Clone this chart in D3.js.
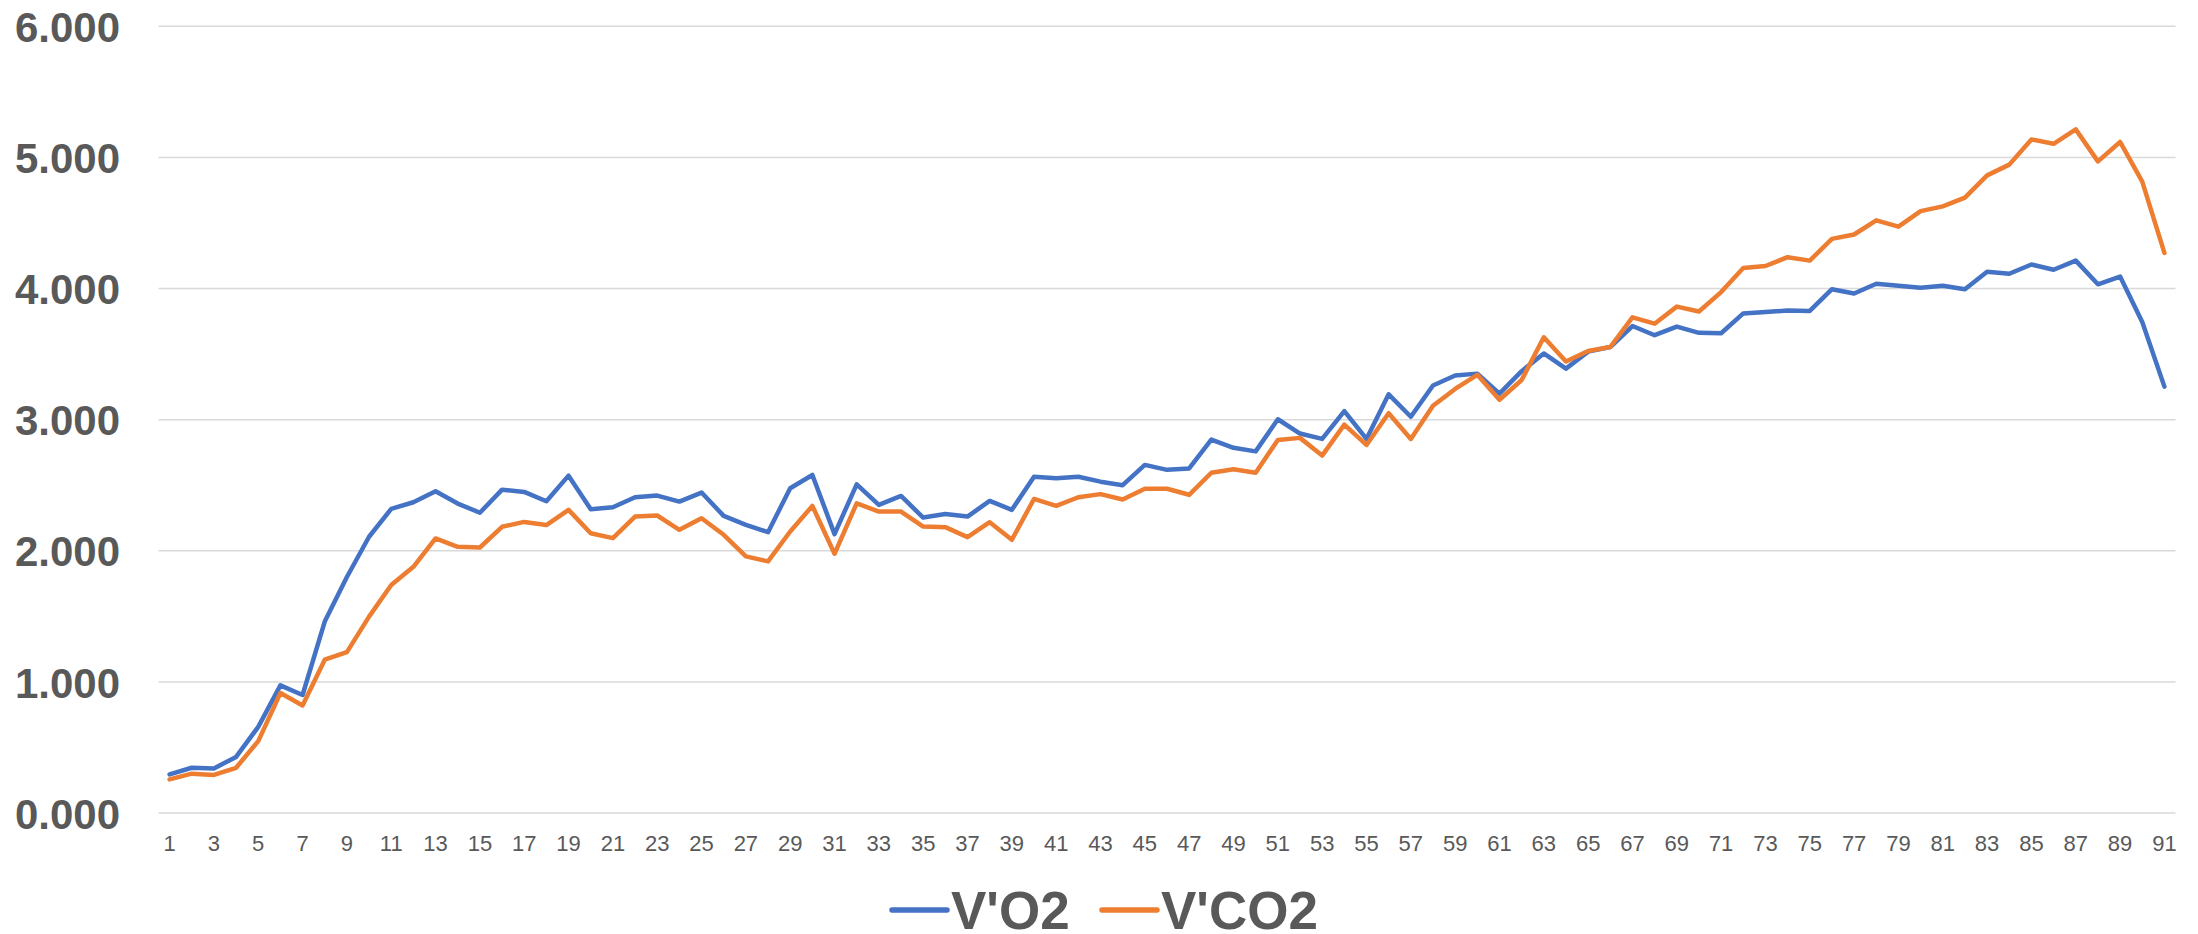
<!DOCTYPE html>
<html>
<head>
<meta charset="utf-8">
<script src="https://cdn.jsdelivr.net/npm/d3@7"></script>
<style>
  html, body { margin: 0; padding: 0; background: #ffffff; }
  svg { display: block; font-family: "Liberation Sans", Arial, sans-serif; }
</style>
</head>
<body>
<svg id="chart" width="2198" height="934"></svg>
<script>
// ---- data ----
const categories = d3.range(1, 92);
const seriesNames = ["V'O2", "V'CO2"];
const seriesColors = ["#4472C4", "#ED7D31"];
const yTickValues = [0, 1, 2, 3, 4, 5, 6];
const vo2 = [
  0.294, 0.345, 0.340, 0.428, 0.657, 0.973, 0.900, 1.460, 1.800, 2.107,
  2.320, 2.370, 2.454, 2.360, 2.290, 2.466, 2.449, 2.378, 2.573, 2.317,
  2.332, 2.408, 2.421, 2.375, 2.444, 2.266, 2.198, 2.142, 2.477, 2.578,
  2.127, 2.507, 2.350, 2.418, 2.253, 2.281, 2.261, 2.380, 2.312, 2.565,
  2.553, 2.565, 2.527, 2.500, 2.655, 2.617, 2.628, 2.848, 2.785, 2.758,
  3.003, 2.894, 2.853, 3.065, 2.853, 3.193, 3.022, 3.261, 3.337, 3.351,
  3.198, 3.370, 3.505, 3.389, 3.519, 3.554, 3.714, 3.644, 3.710, 3.662,
  3.659, 3.810, 3.821, 3.832, 3.829, 3.995, 3.962, 4.036, 4.021, 4.006,
  4.021, 3.995, 4.128, 4.113, 4.183, 4.143, 4.213, 4.032, 4.091, 3.744,
  3.252
];
const vco2 = [
  0.256, 0.300, 0.290, 0.345, 0.548, 0.915, 0.820, 1.169, 1.227, 1.498,
  1.739, 1.878, 2.094, 2.030, 2.025, 2.183, 2.220, 2.196, 2.312, 2.134,
  2.096, 2.261, 2.269, 2.160, 2.248, 2.122, 1.957, 1.919, 2.147, 2.342,
  1.977, 2.362, 2.299, 2.299, 2.185, 2.180, 2.104, 2.218, 2.084, 2.395,
  2.342, 2.408, 2.432, 2.391, 2.473, 2.473, 2.427, 2.595, 2.622, 2.595,
  2.845, 2.861, 2.726, 2.962, 2.807, 3.049, 2.853, 3.106, 3.234, 3.342,
  3.152, 3.302, 3.628, 3.443, 3.524, 3.554, 3.780, 3.732, 3.862, 3.825,
  3.973, 4.157, 4.172, 4.239, 4.213, 4.379, 4.412, 4.520, 4.472, 4.590,
  4.627, 4.693, 4.863, 4.945, 5.137, 5.104, 5.214, 4.970, 5.118, 4.815,
  4.272
];
const seriesValues = [vo2, vco2];

// ---- layout ----
const svg = d3.select("#chart");
const plotLeft = 158.5, plotRight = 2175.5, plotTop = 26.3, plotBottom = 813;
const textColor = "#595959";

const x = d3.scaleBand().domain(categories).range([plotLeft, plotRight]);
const xc = d => x(d) + x.bandwidth() / 2;
const y = d3.scaleLinear().domain([0, 6]).range([plotBottom, plotTop]);

// gridlines
svg.append("g").selectAll("line").data(yTickValues).join("line")
  .attr("x1", plotLeft).attr("x2", plotRight)
  .attr("y1", d => y(d)).attr("y2", d => y(d))
  .attr("stroke", "#d9d9d9").attr("stroke-width", 1.5);

// y axis labels
const yAxis = d3.axisLeft(y).tickValues(yTickValues).tickFormat(d3.format(".3f")).tickSize(0).tickPadding(0);
const yg = svg.append("g").attr("transform", "translate(120,0)").call(yAxis);
yg.select(".domain").remove();
yg.selectAll("text")
  .attr("font-family", "'Liberation Sans', Arial, sans-serif")
  .attr("font-size", 42).attr("font-weight", "bold").attr("fill", textColor)
  .attr("x", 0).attr("dy", "0.36em");

// x axis labels (every other category)
const xAxis = d3.axisBottom(x).tickValues(categories.filter(c => c % 2 === 1)).tickSize(0).tickPadding(0);
const xg = svg.append("g").attr("transform", `translate(0,${plotBottom})`).call(xAxis);
xg.select(".domain").remove();
xg.selectAll("text")
  .attr("font-family", "'Liberation Sans', Arial, sans-serif")
  .attr("font-size", 22).attr("fill", textColor)
  .attr("y", 30).attr("dy", "0.36em");

// lines
const line = d3.line().x((d, i) => xc(categories[i])).y(d => y(d));
svg.append("g").selectAll("path").data(seriesValues).join("path")
  .attr("d", d => line(d))
  .attr("fill", "none")
  .attr("stroke", (d, i) => seriesColors[i])
  .attr("stroke-width", 4.5)
  .attr("stroke-linejoin", "round")
  .attr("stroke-linecap", "round");

// legend
const legendY = 910;
const legendStarts = [892, 1102];
const lg = svg.append("g").selectAll("g").data(seriesNames).join("g")
  .attr("transform", (d, i) => `translate(${legendStarts[i]},${legendY})`);
lg.append("line").attr("x1", 0).attr("x2", 55).attr("y1", 0).attr("y2", 0)
  .attr("stroke", (d, i) => seriesColors[i]).attr("stroke-width", 5.5).attr("stroke-linecap", "round");
lg.append("text").attr("x", 59).attr("y", 0).attr("dy", "0.36em")
  .attr("font-size", 53).attr("font-weight", "bold").attr("fill", textColor)
  .text(d => d);
</script>
</body>
</html>
